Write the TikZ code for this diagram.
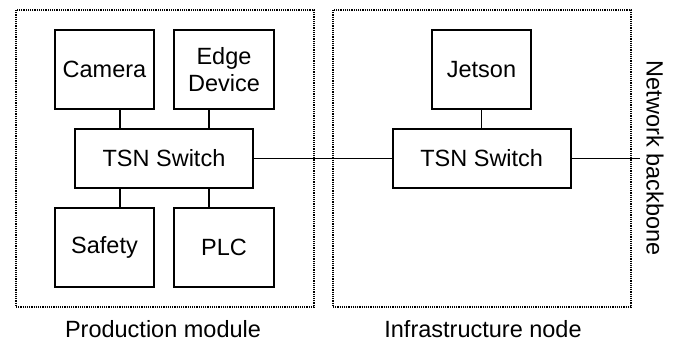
\documentclass[tikz,border=0pt]{standalone}
\usepackage{fontspec}
\setmainfont{Liberation Sans}
\begin{document}
\begin{tikzpicture}[x=1pt,y=-1pt,
  font=\fontsize{23.5}{27}\selectfont,
  unit/.style={draw, line width=1.8pt, inner sep=0pt, minimum width=99pt, minimum height=79pt, align=center},
  switch/.style={draw, line width=1.8pt, inner sep=0pt, minimum width=178pt, minimum height=59pt},
  link/.style={line width=1.8pt},
  group/.style={draw, line width=1.3pt, dash pattern=on 1.2pt off 1pt},
  caption/.style={inner sep=0pt}]
\useasboundingbox (0,0) rectangle (680,343);
% module outlines
\draw[group] (16,10) rectangle (314,307);
\draw[group] (333,10) rectangle (631,307);
% production module
\node[unit] (cam) at (104.5,69.5) {Camera};
\node[unit, minimum width=100pt] (edge) at (224,69.5) {Edge\\Device};
\node[switch] (swA) at (164,158.5) {TSN Switch};
\node[unit] (safe) at (104.5,247.5) {Safety};
\node[unit, minimum width=100pt] (plc) at (224,247.5) {PLC};
% infrastructure node
\node[unit] (jet) at (481.5,69.5) {Jetson};
\node[switch] (swB) at (481.7,158.5) {TSN Switch};
\coordinate (bb) at (640,158.5);
% links
\draw[link] ([xshift=15.5pt]cam.south) -- ([xshift=15.5pt]cam.south |- swA.north);
\draw[link] ([xshift=-15pt]edge.south) -- ([xshift=-15pt]edge.south |- swA.north);
\draw[link] ([xshift=15.5pt]safe.north) -- ([xshift=15.5pt]safe.north |- swA.south);
\draw[link] ([xshift=-15pt]plc.north) -- ([xshift=-15pt]plc.north |- swA.south);
\draw[link] (jet.south) -- (jet.south |- swB.north);
\draw[link] (swA.east) -- (swB.west);
\draw[link] (swB.east) -- (bb);
% captions
\node[caption] (capA) at (163,329) {Production module};
\node[caption] (capB) at (483,329) {Infrastructure node};
\node[caption, rotate=-90] (capC) at (655,158) {Network backbone};
\end{tikzpicture}
\end{document}
